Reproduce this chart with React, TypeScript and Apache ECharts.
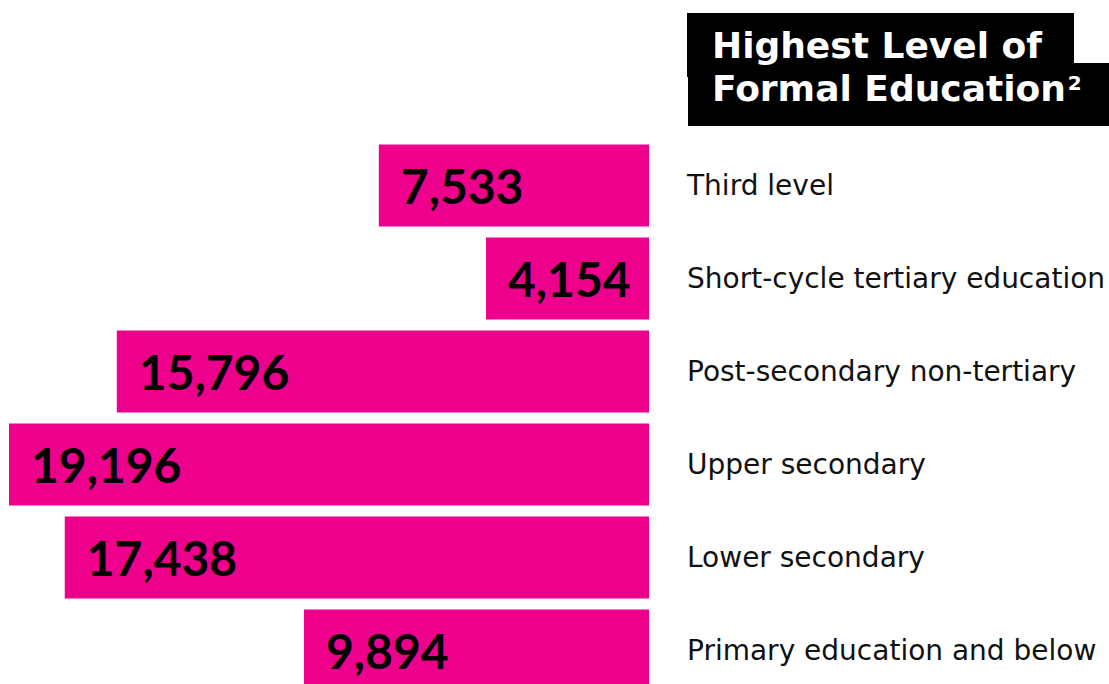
import React, { useEffect, useRef } from "react";
import * as echarts from "echarts";

const categories = [
  "Third level",
  "Short-cycle tertiary education",
  "Post-secondary non-tertiary",
  "Upper secondary",
  "Lower secondary",
  "Primary education and below",
];
const values = [7533, 4154, 15796, 19196, 17438, 9894];
// extra length (in value units) drawn under every bar so short bars still hold their label
const barPadding = 987;
const titleLines = ["Highest Level of", "Formal Education"];
const titleNote = "2";

const LABEL_FONT = "'DejaVu Sans', 'Open Sans', sans-serif";
const VALUE_FONT = "Lato, 'Noto Sans', sans-serif";
const MAGENTA = "#ec008c";

export default function App() {
  const ref = useRef<HTMLDivElement>(null);
  useEffect(() => {
    if (!ref.current) return;
    const chart = echarts.init(ref.current, null, { renderer: "svg" });

    const titleSize = 36;
    const titleWeight = "bold";
    const cv = document.createElement("canvas");
    const ctx = cv.getContext("2d")!;
    ctx.font = `${titleWeight} ${titleSize}px ${LABEL_FONT}`;
    const line2W = ctx.measureText(titleLines[1]).width;

    const titleStyle = {
      fill: "#fff",
      fontSize: titleSize,
      fontWeight: titleWeight,
      fontFamily: LABEL_FONT,
      verticalAlign: "middle",
    };

    chart.setOption({
      animation: false,
      backgroundColor: "#ffffff",
      grid: { left: 9, right: 460, top: 139, bottom: 0, containLabel: false },
      xAxis: {
        type: "value",
        inverse: true,
        min: 0,
        max: Math.max(...values) + barPadding,
        show: false,
      },
      yAxis: {
        type: "category",
        data: categories,
        inverse: true,
        position: "right",
        axisLine: { show: false },
        axisTick: { show: false },
        splitLine: { show: false },
        axisLabel: {
          margin: 38,
          align: "left",
          fontSize: 28,
          fontFamily: LABEL_FONT,
          color: "#111111",
        },
      },
      series: [
        {
          name: "Highest level of formal education",
          type: "custom",
          data: values.map((v, i) => [v, i]),
          encode: { x: 0, y: 1 },
          renderItem: (params: any, api: any) => {
            const v = api.value(0);
            const cat = api.value(1);
            const start = api.coord([0, cat]);
            const end = api.coord([v + barPadding, cat]);
            const band = api.size([0, 1])[1];
            const h = band * (82 / 93);
            return {
              type: "rect",
              shape: {
                x: end[0],
                y: start[1] - h / 2,
                width: start[0] - end[0],
                height: h,
              },
              style: { fill: MAGENTA },
              textContent: {
                style: {
                  text: Number(v).toLocaleString("en-US"),
                  fontSize: 48,
                  fontWeight: "bold",
                  fontFamily: VALUE_FONT,
                  fill: "#000000",
                },
              },
              textConfig: { position: "insideLeft", distance: 22 },
            };
          },
        },
      ],
      graphic: [
        { type: "rect", shape: { x: 687, y: 13, width: 387, height: 64 }, style: { fill: "#000" } },
        { type: "rect", shape: { x: 688, y: 63, width: 421, height: 63 }, style: { fill: "#000" } },
        { type: "text", x: 712, y: 45, style: { ...titleStyle, text: titleLines[0] } },
        { type: "text", x: 712, y: 88, style: { ...titleStyle, text: titleLines[1] } },
        {
          type: "text",
          x: 712 + line2W + 2,
          y: 83,
          style: { ...titleStyle, fontSize: 20, text: titleNote },
        },
      ],
    });
    return () => chart.dispose();
  }, []);
  return (
    <div
      ref={ref}
      style={{ position: "fixed", left: 0, top: 0, width: 1109, height: 697 }}
    />
  );
}
